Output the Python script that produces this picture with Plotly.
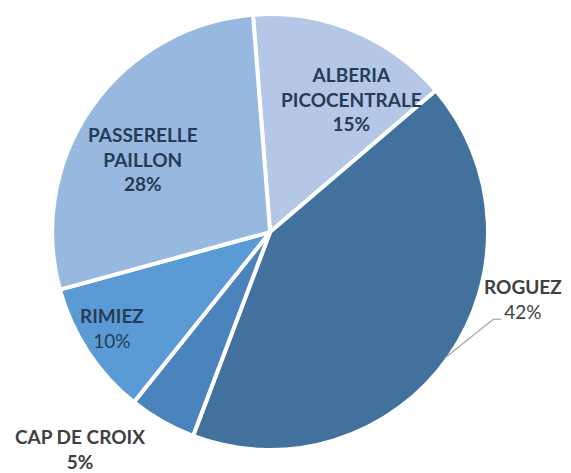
import plotly.graph_objects as go

# slice order: clockwise from the top
labels = ["ALBERIA<br>PICOCENTRALE", "ROGUEZ", "CAP DE CROIX", "RIMIEZ", "PASSERELLE<br>PAILLON"]
values = [15, 42, 5, 10, 28]
colors = ["#b4c7e7", "#41719c", "#4b83bd", "#5b9bd5", "#97b9e0"]

# label placement (paper coords) and style, one per slice
label_pos = [(0.602, 0.808), (0.902, 0.385), (0.126, 0.068), (0.182, 0.323), (0.236, 0.681)]
label_color = ["#263b56", "#404040", "#404040", "#263b56", "#263b56"]
pct_bold = [True, False, True, False, True]

fig = go.Figure(go.Pie(
    labels=labels,
    values=values,
    sort=False,
    direction="clockwise",
    rotation=-4.5,
    marker=dict(colors=colors, line=dict(color="white", width=4)),
    textinfo="none",
    hoverinfo="label+percent",
    showlegend=False,
    domain=dict(x=[0.077, 0.841], y=[0.0655, 0.987]),
))

total = sum(values)
for lab, val, (x, y), col, b in zip(labels, values, label_pos, label_color, pct_bold):
    pct = f"{round(100 * val / total)}%"
    if b:
        pct = f"<b>{pct}</b>"
    fig.add_annotation(
        x=x, y=y, xref="paper", yref="paper",
        xanchor="center", yanchor="middle",
        text=f"<b>{lab}</b><br>{pct}",
        showarrow=False,
        font=dict(family="Lato, Open Sans, sans-serif", size=19, color=col),
        align="center",
    )

# leader line for ROGUEZ
leader = dict(color="#a6a6a6", width=1.2)
fig.add_shape(type="line", xref="paper", yref="paper",
              x0=0.765, y0=0.260, x1=0.850, y1=0.342, line=leader)
fig.add_shape(type="line", xref="paper", yref="paper",
              x0=0.850, y0=0.342, x1=0.864, y1=0.342, line=leader)

fig.update_layout(
    width=571, height=473,
    margin=dict(l=0, r=0, t=0, b=0),
    paper_bgcolor="white",
    plot_bgcolor="white",
)

fig.write_html("out.html")
